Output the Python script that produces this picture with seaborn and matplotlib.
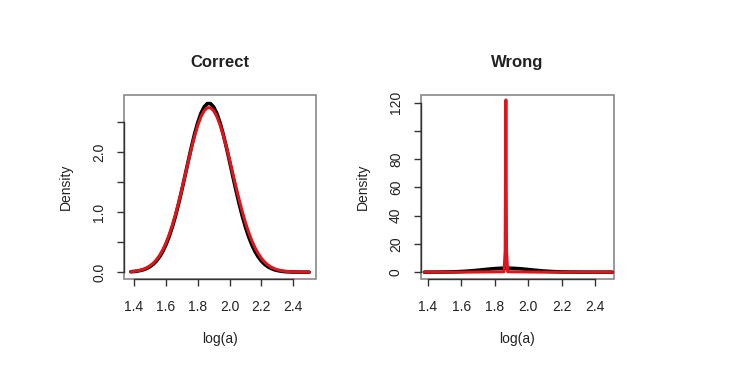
import matplotlib.pyplot as plt
import pandas as pd
import seaborn as sns
from matplotlib.patches import Rectangle

# Density curves
log_a = [1.38, 1.40, 1.42, 1.44, 1.46, 1.48, 1.50, 1.52, 1.54, 1.56, 1.58, 1.60, 1.62, 1.64, 1.66,
         1.68, 1.70, 1.72, 1.74, 1.76, 1.78, 1.80, 1.82, 1.84, 1.86, 1.88, 1.90, 1.92, 1.94, 1.96,
         1.98, 2.00, 2.02, 2.04, 2.06, 2.08, 2.10, 2.12, 2.14, 2.16, 2.18, 2.20, 2.22, 2.24, 2.26,
         2.28, 2.30, 2.32, 2.34, 2.36, 2.38, 2.40, 2.42, 2.44, 2.46, 2.48, 2.50]
true_density = [0.007, 0.011, 0.018, 0.028, 0.042, 0.063, 0.092, 0.132, 0.185, 0.255, 0.344, 0.456, 0.591, 0.751, 0.936,
                1.144, 1.369, 1.607, 1.848, 2.084, 2.303, 2.495, 2.649, 2.757, 2.813, 2.813, 2.757, 2.649, 2.495, 2.303,
                2.084, 1.848, 1.607, 1.369, 1.144, 0.936, 0.751, 0.591, 0.456, 0.344, 0.255, 0.185, 0.132, 0.092, 0.063,
                0.042, 0.028, 0.018, 0.011, 0.007, 0.004, 0.002, 0.001, 0.001, 0.0, 0.0, 0.0]
correct_density = [0.009, 0.014, 0.022, 0.034, 0.050, 0.074, 0.106, 0.149, 0.206, 0.279, 0.371, 0.485, 0.621, 0.780, 0.962,
                   1.164, 1.382, 1.610, 1.839, 2.062, 2.268, 2.447, 2.591, 2.692, 2.743, 2.744, 2.694, 2.598, 2.460, 2.288,
                   2.089, 1.873, 1.649, 1.426, 1.211, 1.009, 0.826, 0.664, 0.525, 0.407, 0.310, 0.232, 0.170, 0.123, 0.087,
                   0.060, 0.041, 0.028, 0.018, 0.012, 0.008, 0.005, 0.003, 0.002, 0.001, 0.001, 0.001]

wrong_log_a = [1.38, 1.60, 1.855, 1.862, 1.866, 1.870, 1.877, 2.10, 2.50]
wrong_density = [0.0, 0.0, 0.3, 15.0, 122.0, 15.0, 0.3, 0.0, 0.0]

x_ticks = [1.4, 1.6, 1.8, 2.0, 2.2, 2.4]
left_y_ticks = [0.0, 0.5, 1.0, 1.5, 2.0, 2.5]
left_y_labels = ['0.0', '', '1.0', '', '2.0', '']
right_y_ticks = [0, 20, 40, 60, 80, 100, 120]
right_y_labels = ['0', '20', '40', '60', '80', '', '120']

true_df = pd.DataFrame({'log_a': log_a, 'density': true_density})
correct_df = pd.DataFrame({'log_a': log_a, 'density': correct_density})
wrong_df = pd.DataFrame({'log_a': wrong_log_a, 'density': wrong_density})

sns.set_style("white")
plt.rcParams['font.family'] = ['Liberation Sans', 'DejaVu Sans']

fig = plt.figure(figsize=(7.44, 3.77), dpi=100)
ax1 = fig.add_axes([124.5 / 744, 1 - 279 / 377, 191.2 / 744, 184.5 / 377])
ax2 = fig.add_axes([421 / 744, 1 - 279 / 377, 193 / 744, 184.5 / 377])

red = '#e0141a'
text_col = '#222222'


def style_axes(ax, title, xlim, ylim, yticks, ylabels):
    ax.set_xlim(*xlim)
    ax.set_ylim(*ylim)
    ax.set_xticks(x_ticks)
    ax.set_xticklabels([f'{t:.1f}' for t in x_ticks])
    ax.set_yticks(yticks)
    ax.set_yticklabels(ylabels, rotation=90, va='center')
    for side in ['top', 'right']:
        ax.spines[side].set_visible(False)
    for side in ['left', 'bottom']:
        ax.spines[side].set_color('#333333')
        ax.spines[side].set_linewidth(1.0)
    ax.spines['bottom'].set_bounds(x_ticks[0], x_ticks[-1])
    ax.spines['left'].set_bounds(yticks[0], yticks[-1])
    ax.add_patch(Rectangle((0, 0), 1, 1, transform=ax.transAxes, fill=False,
                           edgecolor='#888888', linewidth=1.2, clip_on=False, zorder=0.5))
    ax.tick_params(axis='both', direction='out', length=5, width=1.0, color='#333333',
                   labelsize=10, labelcolor=text_col, pad=8, left=True, bottom=True)
    ax.tick_params(axis='x', pad=10)
    ax.set_xlabel('log(a)', fontsize=10, color=text_col, labelpad=13)
    ax.set_ylabel('Density', fontsize=10, color=text_col, labelpad=14)
    ax.set_title(title, fontsize=12, fontweight='bold', color=text_col, pad=20)


sns.lineplot(data=true_df, x='log_a', y='density', ax=ax1, color='black', linewidth=2.6)
sns.lineplot(data=correct_df, x='log_a', y='density', ax=ax1, color=red, linewidth=2.2)
style_axes(ax1, 'Correct', (1.340, 2.541), (-0.114, 2.965), left_y_ticks, left_y_labels)

sns.lineplot(data=true_df, x='log_a', y='density', ax=ax2, color='black', linewidth=2.6)
sns.lineplot(data=wrong_df, x='log_a', y='density', ax=ax2, color=red, linewidth=2.2)
style_axes(ax2, 'Wrong', (1.360, 2.511), (-4.84, 125.9), right_y_ticks, right_y_labels)

fig.savefig('out.png', dpi=100)
